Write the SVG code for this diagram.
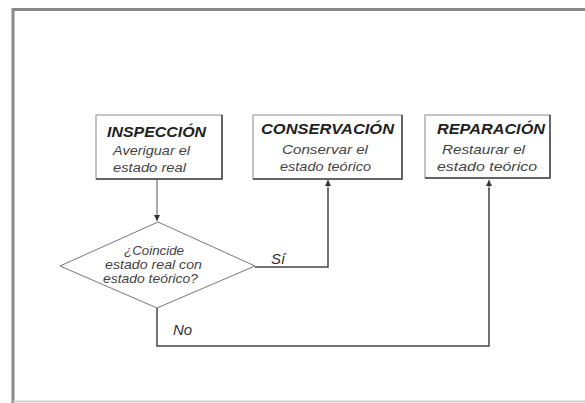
<svg xmlns="http://www.w3.org/2000/svg" width="585" height="403" viewBox="0 0 585 403">
<style>
.box{fill:#fff;stroke:#8a8a8a;stroke-width:1}
.shadow{fill:none;stroke:#444;stroke-width:1.5}
.title{font-family:"Liberation Sans",Arial,sans-serif;font-weight:bold;font-style:italic;font-size:14px;fill:#222}
.sub{font-family:"Liberation Sans",Arial,sans-serif;font-style:italic;font-size:13px;fill:#444}
.lbl{font-family:"Liberation Sans",Arial,sans-serif;font-style:italic;font-size:15px;fill:#333}
.dtxt{font-family:"Liberation Sans",Arial,sans-serif;font-style:italic;font-size:13px;fill:#444}
.conn{fill:none;stroke:#555;stroke-width:1}
.connb{fill:none;stroke:#444;stroke-width:1.5}
</style>
<defs>
<marker id="arr" markerWidth="8" markerHeight="8" refX="6" refY="3" orient="auto" markerUnits="userSpaceOnUse">
<path d="M0,0 L6,3 L0,6 Z" fill="#333"/>
</marker>
</defs>
<rect x="0" y="0" width="585" height="403" fill="#fff"/>
<path d="M13,403 V9.5 H585" fill="none" stroke="#8a8a8a" stroke-width="3"/>
<line x1="13" y1="401.5" x2="585" y2="401.5" stroke="#d0d0d0" stroke-width="2"/>

<g id="connectors">
<line class="conn" x1="157" y1="179" x2="157" y2="221" marker-end="url(#arr)"/>
<path class="connb" d="M255,267 H328 V188"/>
<line class="conn" x1="328" y1="190" x2="328" y2="180" marker-end="url(#arr)"/>
<path class="connb" d="M157,308 V346 H489 V188"/>
<line class="conn" x1="489" y1="190" x2="489" y2="180" marker-end="url(#arr)"/>
<text class="lbl" x="271" y="264">Sí</text>
<text class="lbl" x="173" y="335">No</text>
</g>

<g id="inspeccion">
<rect class="box" x="96" y="115" width="126" height="64"/>
<path class="shadow" d="M222,115 V179 H96"/>
<text class="title" x="107" y="137" textLength="99" lengthAdjust="spacingAndGlyphs">INSPECCIÓN</text>
<text class="sub" x="113" y="155" textLength="77" lengthAdjust="spacingAndGlyphs">Averiguar el</text>
<text class="sub" x="113" y="172" textLength="73" lengthAdjust="spacingAndGlyphs">estado real</text>
</g>

<g id="conservacion">
<rect class="box" x="253" y="115" width="149" height="64"/>
<path class="shadow" d="M402,115 V179 H253"/>
<text class="title" x="261" y="134" textLength="133" lengthAdjust="spacingAndGlyphs">CONSERVACIÓN</text>
<text class="sub" x="282" y="154" textLength="86" lengthAdjust="spacingAndGlyphs">Conservar el</text>
<text class="sub" x="280" y="171" textLength="91" lengthAdjust="spacingAndGlyphs">estado teórico</text>
</g>

<g id="reparacion">
<rect class="box" x="425" y="115" width="125" height="63"/>
<path class="shadow" d="M550,115 V178 H425"/>
<text class="title" x="437" y="134" textLength="108" lengthAdjust="spacingAndGlyphs">REPARACIÓN</text>
<text class="sub" x="442" y="154" textLength="83" lengthAdjust="spacingAndGlyphs">Restaurar el</text>
<text class="sub" x="437" y="171" textLength="100" lengthAdjust="spacingAndGlyphs">estado teórico</text>
</g>

<g id="decision">
<polygon points="158,222 255,266 157,308 60,266" fill="#fff" stroke="#777" stroke-width="1"/>
<text class="dtxt" x="124" y="255" textLength="60" lengthAdjust="spacingAndGlyphs">¿Coincide</text>
<text class="dtxt" x="105" y="269" textLength="97" lengthAdjust="spacingAndGlyphs">estado real con</text>
<text class="dtxt" x="103" y="283" textLength="95" lengthAdjust="spacingAndGlyphs">estado teórico?</text>
</g>
</svg>
